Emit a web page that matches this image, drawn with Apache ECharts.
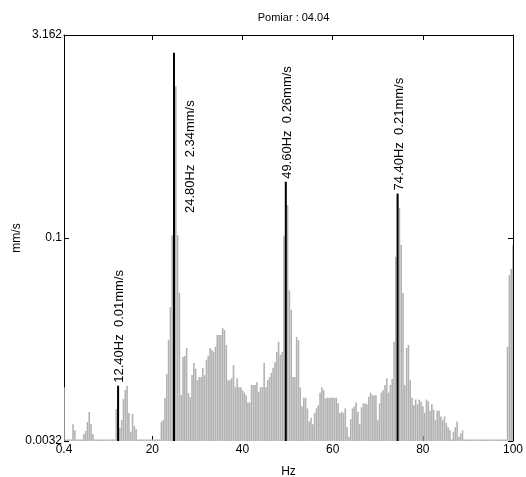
<!DOCTYPE html>
<html><head><meta charset="utf-8">
<script src="https://cdn.jsdelivr.net/npm/echarts@6/dist/echarts.min.js"></script>
<style>html,body{margin:0;padding:0;background:#fff}#c{width:526px;height:477px}</style>
</head><body><div id="c"></div>
<script>
const TITLE = 'Pomiar : 04.04';
const X_NAME = 'Hz';
const Y_NAME = 'mm/s';
const X_MIN = 0.4, X_MAX = 100;
const Y_MIN = 0.0031623, Y_MAX = 3.1623;
const X_TICK_LABELS = [0.4, 20, 40, 60, 80, 100];
const X_TICKS = [20, 40, 60, 80];
const Y_TICK_LABELS = ['0.0032', '0.1', '3.162'];
const FREQ_STEP = 0.4;   // spectrum bin width, Hz (first bin at 0.4 Hz)
const SPECTRUM = [
  0.0079, 0.00325, 0.00325, 0.00325, 0.00325, 0.0042, 0.0038, 0.00325, 0.00325, 0.00325,
  0.00325, 0.00356, 0.00375, 0.00437, 0.00518, 0.0042, 0.00356, 0.00325, 0.00325, 0.00325,
  0.00325, 0.00325, 0.00325, 0.00325, 0.00325, 0.00325, 0.00325, 0.00325, 0.00325, 0.00545,
  0.0081, 0.00395, 0.00452, 0.00646, 0.00753, 0.0081, 0.00509, 0.00369, 0.005, 0.00408,
  0.00388, 0.00325, 0.00325, 0.00325, 0.00325, 0.00325, 0.00325, 0.00325, 0.00325, 0.00325,
  0.00325, 0.00325, 0.00325, 0.00325, 0.00437, 0.00452, 0.00657, 0.00989, 0.0176, 0.0309,
  0.105, 2.3, 1.32, 0.105, 0.0393, 0.00692, 0.0132, 0.01345, 0.0154, 0.00716,
  0.00668, 0.0097, 0.0119, 0.0108, 0.0089, 0.0094, 0.0094, 0.011, 0.0097, 0.0126,
  0.0135, 0.0154, 0.0149, 0.0144, 0.0157, 0.0192, 0.0192, 0.0192, 0.0216, 0.0209,
  0.0162, 0.0089, 0.0089, 0.0092, 0.0115, 0.0079, 0.0092, 0.0079, 0.0079, 0.0075,
  0.0072, 0.0069, 0.0061, 0.0061, 0.0082, 0.0082, 0.0082, 0.0086, 0.0073, 0.0079,
  0.0079, 0.0119, 0.0079, 0.0089, 0.0094, 0.0101, 0.011, 0.0121, 0.0144, 0.0171,
  0.0137, 0.0144, 0.103, 0.25, 0.175, 0.041, 0.0294, 0.0094, 0.0094, 0.0186,
  0.0176, 0.0079, 0.0057, 0.0066, 0.0066, 0.0055, 0.0044, 0.0047, 0.0042, 0.0051,
  0.0055, 0.0058, 0.0072, 0.0079, 0.0075, 0.0065, 0.0066, 0.0066, 0.0066, 0.0066,
  0.0066, 0.0066, 0.006, 0.0051, 0.0052, 0.0051, 0.0055, 0.004, 0.0034, 0.0046,
  0.0055, 0.0057, 0.0061, 0.0052, 0.0042, 0.0056, 0.006, 0.006, 0.0059, 0.0067,
  0.0072, 0.0069, 0.0069, 0.0069, 0.0045, 0.006, 0.0072, 0.0075, 0.0082, 0.0092,
  0.0072, 0.0082, 0.0091, 0.0171, 0.0724, 0.2, 0.1665, 0.089, 0.0393, 0.0082,
  0.0154, 0.0162, 0.0089, 0.0066, 0.0058, 0.0064, 0.0059, 0.0064, 0.0062, 0.0057,
  0.0051, 0.0064, 0.0062, 0.0053, 0.0059, 0.0054, 0.0045, 0.0053, 0.0053, 0.0048,
  0.0045, 0.0048, 0.0043, 0.004, 0.0038, 0.00325, 0.0037, 0.004, 0.0044, 0.0034,
  0.0036, 0.0038, 0.00325, 0.00325, 0.00325, 0.00325, 0.00325, 0.00325, 0.00325, 0.00325,
  0.00325, 0.00325, 0.00325, 0.00325, 0.00325, 0.00325, 0.00325, 0.00325, 0.00325, 0.00325,
  0.00325, 0.00325, 0.00325, 0.00325, 0.00325, 0.00325, 0.0157, 0.0533, 0.059, 0.089
];
const PEAK_HZ = [12.4, 24.8, 49.6, 74.4];
const PEAK_VAL = [0.0081, 2.34, 0.26, 0.213];

const FONT = '"Liberation Sans", Arial, Helvetica, sans-serif';
const BAR_COLOR = '#b2b2b2';

const measureCtx = document.createElement('canvas').getContext('2d');
function textLen(t, font) { measureCtx.font = font; return measureCtx.measureText(t).width; }

const spectrumData = SPECTRUM.map((v, i) => [(i + 1) * FREQ_STEP, v]);
const peakData = PEAK_HZ.map((hz, i) => [hz, PEAK_VAL[i]]);

function yLabel(v) {
  const lv = Math.log10(v);
  for (const s of Y_TICK_LABELS) {
    if (Math.abs(Math.log10(parseFloat(s)) - lv) < 0.02) return s;
  }
  return '';
}

const chart = echarts.init(document.getElementById('c'), null, { renderer: 'canvas' });
const axisTextStyle = { color: '#000', fontSize: 12, fontFamily: FONT };
chart.setOption({
  animation: false,
  backgroundColor: '#fff',
  title: {
    text: TITLE, left: 288.5, top: 7, textAlign: 'center',
    textStyle: { fontSize: 11, fontWeight: 'normal', color: '#000', fontFamily: FONT }
  },
  grid: { left: 64, right: 13, top: 35, bottom: 36, outerBoundsMode: 'none', containLabel: false },
  xAxis: [
    {
      type: 'value', min: X_MIN, max: X_MAX, position: 'bottom',
      name: X_NAME, nameLocation: 'middle', nameGap: 25, nameMoveOverlap: false, nameTextStyle: axisTextStyle,
      axisLine: { show: false, onZero: false },
      axisTick: { show: true, inside: true, length: 5, customValues: X_TICKS, lineStyle: { color: '#000', width: 1 } },
      axisLabel: { customValues: X_TICK_LABELS, margin: 3, ...axisTextStyle },
      splitLine: { show: false }
    },
    {
      type: 'value', min: X_MIN, max: X_MAX, position: 'top',
      axisLine: { show: true, onZero: false, lineStyle: { color: '#000', width: 1 } },
      axisTick: { show: true, inside: true, length: 5, customValues: X_TICKS, lineStyle: { color: '#000', width: 1 } },
      axisLabel: { show: false },
      splitLine: { show: false }
    }
  ],
  yAxis: [
    {
      type: 'log', logBase: 10, min: Y_MIN, max: Y_MAX, interval: 1.5, position: 'left',
      name: Y_NAME, nameLocation: 'middle', nameGap: 41, nameMoveOverlap: false, nameTextStyle: axisTextStyle,
      axisLine: { show: true, onZero: false, lineStyle: { color: '#000', width: 1 } },
      axisTick: { show: true, inside: true, length: 5, lineStyle: { color: '#000', width: 1 } },
      axisLabel: { margin: 2, formatter: yLabel, showMinLabel: true, showMaxLabel: true, ...axisTextStyle },
      splitLine: { show: false }
    },
    {
      type: 'log', logBase: 10, min: Y_MIN, max: Y_MAX, interval: 1.5, position: 'right',
      axisLine: { show: true, onZero: false, lineStyle: { color: '#000', width: 1 } },
      axisTick: { show: true, inside: true, length: 5, lineStyle: { color: '#000', width: 1 } },
      axisLabel: { show: false },
      splitLine: { show: false }
    }
  ],
  series: [
    {
      type: 'custom', name: 'spectrum', xAxisIndex: 0, yAxisIndex: 0, clip: true, z: 2,
      data: spectrumData,
      renderItem(params, api) {
        const p = api.coord([api.value(0), api.value(1)]);
        const b = api.coord([api.value(0), Y_MIN]);
        return { type: 'rect', shape: { x: p[0] - 0.8, y: p[1], width: 1.6, height: b[1] - p[1] }, style: { fill: BAR_COLOR } };
      }
    },
    {
      type: 'custom', name: 'peaks', xAxisIndex: 0, yAxisIndex: 0, clip: false, z: 3,
      data: peakData,
      renderItem(params, api) {
        const hz = api.value(0), v = api.value(1);
        const p = api.coord([hz, v]);
        const b = api.coord([hz, Y_MIN]);
        const text = hz.toFixed(2) + 'Hz  ' + v.toFixed(2) + 'mm/s';
        const font = '13px ' + FONT;
        const tl = textLen(text, font);
        const gridTop = params.coordSys.y;
        let tx = p[0] + 1.5, ty = p[1] - 3;
        if (ty - tl < gridTop + 5) { tx = p[0] + 16; ty = gridTop + 178; }
        return {
          type: 'group', children: [
            { type: 'rect', shape: { x: p[0] - 1, y: p[1], width: 2, height: b[1] - p[1] }, style: { fill: '#000' } },
            { type: 'text', x: tx, y: ty, rotation: Math.PI / 2,
              style: { text: text, font: font, fill: '#000', align: 'left', verticalAlign: 'middle' } }
          ]
        };
      }
    }
  ]
});
</script>
</body></html>
